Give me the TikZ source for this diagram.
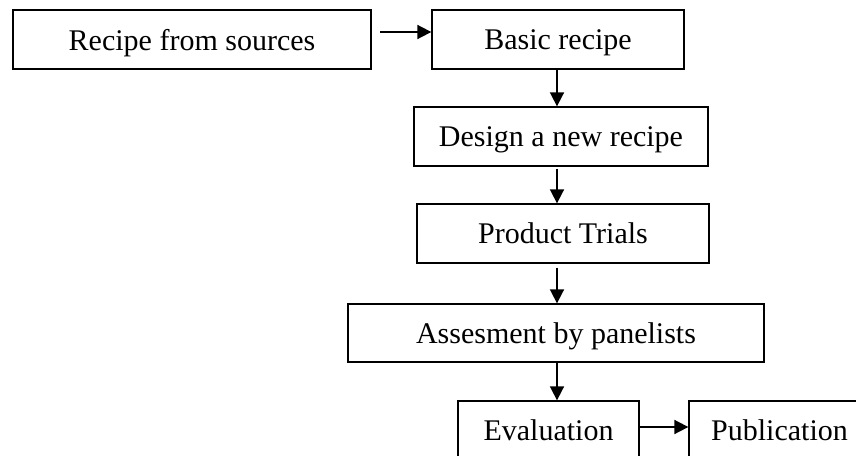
\documentclass[tikz,border=0pt]{standalone}
\usepackage{fontspec}
\setmainfont{Liberation Serif}
\usetikzlibrary{arrows.meta}
\begin{document}
\begin{tikzpicture}[x=1pt,y=-1pt,
  box/.style={draw,line width=1.3pt,minimum height=59pt,inner sep=0pt,text depth=0pt,font=\fontsize{30}{33}\selectfont},
  arr/.style={line width=1.7pt,-{Triangle[length=14pt,width=14pt]}}]
\useasboundingbox (0,0) rectangle (856,455);
\clip (0,0) rectangle (856,455);
\node[box,minimum width=358pt] (b1) at (192,39.5) {Recipe from sources};
\node[box,minimum width=252pt] (b2) at (558,39.5) {Basic recipe};
\node[box,minimum width=294pt] (b3) at (561,136.5) {Design a new recipe};
\node[box,minimum width=292pt] (b4) at (563,233.5) {Product Trials};
\node[box,minimum width=416pt,minimum height=58pt] (b5) at (556,333) {Assesment by panelists};
\node[box,minimum width=181pt] (b6) at (548.5,430.5) {Evaluation};
\node[box,minimum width=181pt] (b7) at (779.5,430.5) {Publication};
\coordinate (xa) at (557,0);
\coordinate (s1) at (380,32);
\draw[arr] (s1) -- (s1 -| b2.west);
\draw[arr] (b2.south -| xa) -- (b3.north -| xa);
\draw[arr] ([yshift=-2pt]b3.south -| xa) -- (b4.north -| xa);
\draw[arr] ([yshift=-4pt]b4.south -| xa) -- (b5.north -| xa);
\draw[arr] (b5.south -| xa) -- (b6.north -| xa);
\draw[arr] ([yshift=3.5pt]b6.east) -- ([yshift=3.5pt]b7.west);
\end{tikzpicture}
\end{document}
